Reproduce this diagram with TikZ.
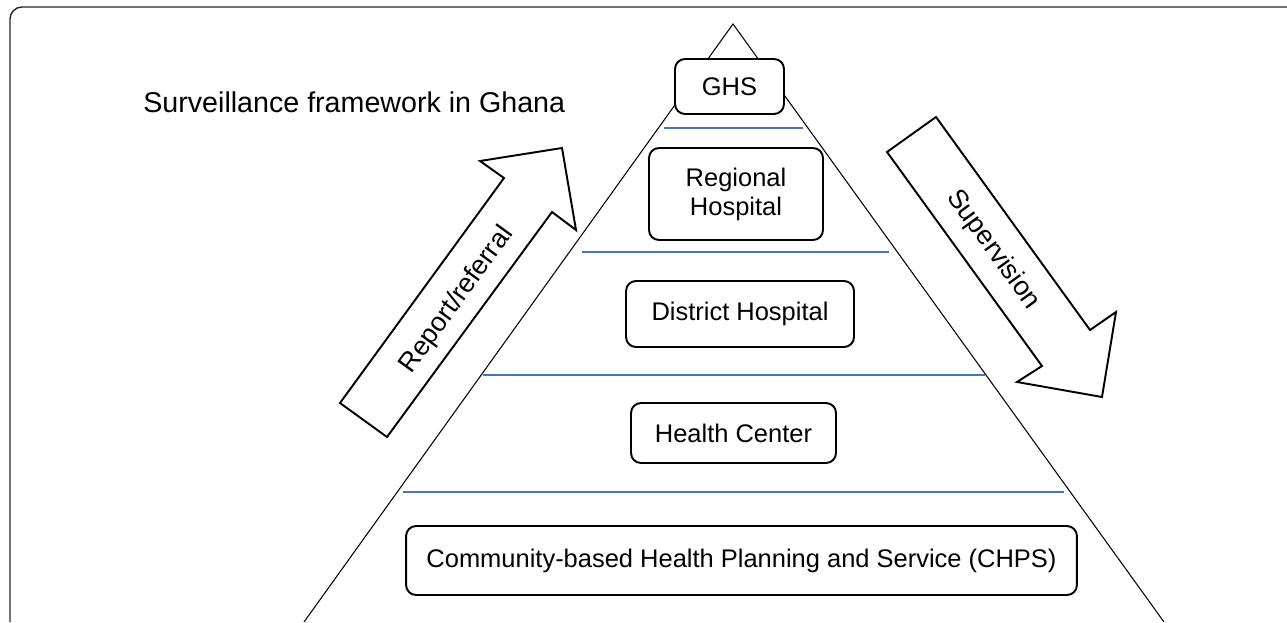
\documentclass[tikz,border=0pt]{standalone}
\usepackage{fontspec}
\setmainfont{Liberation Sans}
\usepackage{tikz}
\usetikzlibrary{shapes,arrows,positioning}

\definecolor{lineblue}{HTML}{4472C4}
\tikzset{
    level/.style={draw, line width=1.1pt, rounded corners=0.2cm, fill=white, align=center, inner sep=0pt, font=\fontsize{14.5}{16.6}\selectfont},
    divider/.style={draw=lineblue, line width=0.6pt},
    blockarrow/.style={draw, line width=1.1pt, fill=white, line join=miter},
    arrowtext/.style={inner sep=0pt, font=\fontsize{15.3}{18}\selectfont}
}

\begin{document}
\begin{tikzpicture}[x=0.02cm, y=-0.02cm]
    \useasboundingbox (0,0) rectangle (1287,622);
    % Frame and title
    \draw[black!85, line width=0.8pt, rounded corners=0.24cm] (10,622) -- (10,7) -- (1287,7);
    \node[anchor=base west, inner sep=0pt, font=\fontsize{16.3}{19}\selectfont] (title) at (143,112) {Surveillance framework in Ghana};

    % Pyramid
    \coordinate (apex) at (733,24);
    \coordinate (baseL) at (304,622);
    \coordinate (baseR) at (1164,622);
    \draw[line width=0.6pt] (baseL) -- (apex) -- (baseR);
    \foreach \y/\xa/\xb in {128/664/803, 252/582/889, 375/483/985, 492/403/1064} {
        \draw[divider] (\xa,\y) -- (\xb,\y);
    }

    % Levels
    \node[level, minimum width=2.18cm, minimum height=1.10cm] (ghs) at (729.5,86.5) {GHS};
    \node[level, minimum width=3.48cm, minimum height=1.84cm] (regional) at (736,194) {Regional\\Hospital};
    \node[level, minimum width=4.56cm, minimum height=1.32cm] (district) at (740,314) {District Hospital};
    \node[level, minimum width=4.10cm, minimum height=1.20cm] (healthcenter) at (733.5,433) {Health Center};
    \node[level, minimum width=13.42cm, minimum height=1.38cm] (chps) at (741.5,560.5) {Community-based Health Planning and Service (CHPS)};

    % Flow arrows
    \draw[blockarrow] (340,403) -- (504,178) -- (480,161) -- (562,148) -- (576,230) -- (552,212) -- (387,437) -- cycle;
    \node[arrowtext, rotate=54] (report) at (457,300) {Report/referral};
    \draw[blockarrow] (936,117) -- (1090,330) -- (1116,312) -- (1102,397) -- (1017,382) -- (1042,366) -- (887,152) -- cycle;
    \node[arrowtext, rotate=-54] (supervision) at (993,250) {Supervision};
\end{tikzpicture}
\end{document}
